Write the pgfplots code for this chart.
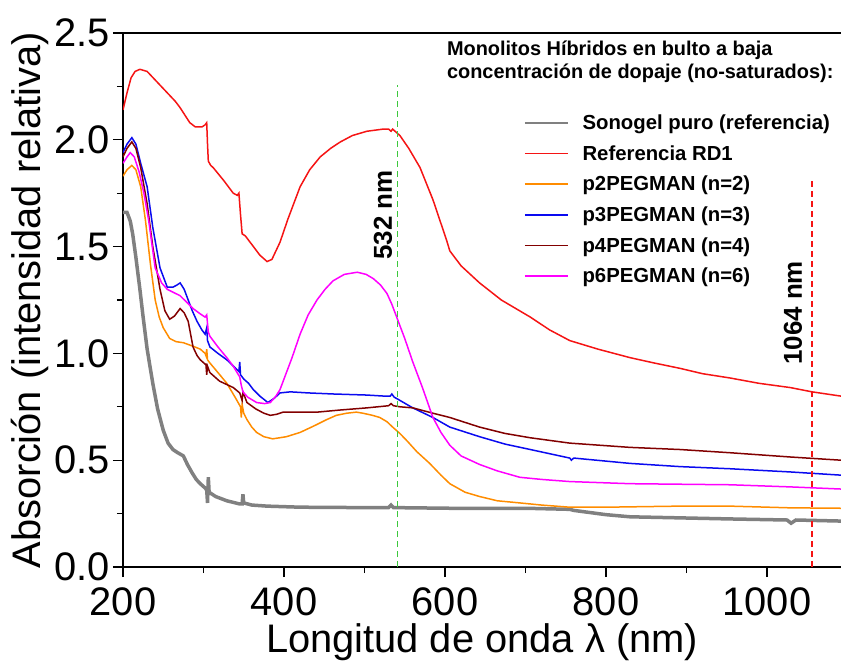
\documentclass[border=0pt]{standalone}
\usepackage{pgfplots}
\pgfplotsset{compat=1.18}
\usepackage{fontspec}
\setmainfont{Liberation Sans}
\definecolor{sgray}{HTML}{808080}
\definecolor{sred}{HTML}{F51414}
\definecolor{sorange}{HTML}{FF8C00}
\definecolor{sblue}{HTML}{0A0AF0}
\definecolor{sbrown}{HTML}{820000}
\definecolor{smag}{HTML}{FF00FF}
\definecolor{sgreen}{HTML}{3CC83C}
\begin{document}
\begin{tikzpicture}
\path[use as bounding box] (-123bp,-94bp) rectangle (718bp,567bp);
\begin{axis}[
  at={(0,0)}, anchor=south west,
  scale only axis, width=718bp, height=534bp,
  xmin=200, xmax=1092, ymin=0, ymax=2.5,
  axis x line=box, axis y line=left,
  axis line style={-, line width=1.2bp},
  xtick={200,400,600,800,1000}, minor x tick num=1,
  ytick={0,0.5,1,1.5,2,2.5}, minor y tick num=1,
  xtick pos=bottom, ytick pos=left,
  tick align=outside, major tick length=10bp, minor tick length=6bp,
  tick style={line width=1.2bp, black},
  /pgf/number format/assume math mode=true,
  xticklabel style={/pgf/number format/1000 sep={}, inner sep=3bp, yshift=-7bp},
  yticklabel style={/pgf/number format/fixed, /pgf/number format/fixed zerofill, /pgf/number format/precision=1, inner ysep=2bp},
  tick label style={font=\fontsize{40}{40}\selectfont},
  label style={font=\fontsize{40}{40}\selectfont},
  xlabel={Longitud de onda λ (nm)},
  ylabel={Absorción (intensidad relativa)},
  xlabel style={at={(axis description cs:0.5,-0.14)}, anchor=center},
  ylabel style={at={(axis description cs:-0.1295,0.5)}, anchor=center},
  legend image code/.code={\draw[#1, line width=1.6bp, solid] (0bp,0bp) -- (43bp,0bp);},
  legend cell align=left,
  legend style={at={(rel axis cs:0.554,0.855)}, anchor=north west, draw=none, fill=none,
    font=\bfseries\fontsize{20.4}{20.4}\selectfont, row sep=10.5bp,
    /tikz/every odd column/.append style={column sep=12bp}},
]
\addplot[color=sgray, line width=3.5bp] coordinates {
(200,1.66)(205,1.66)(209,1.62)(212,1.56)(216,1.45)(221,1.30)(225,1.17)(230,1.02)(237,0.86)(243,0.74)(250,0.64)(256,0.58)(262,0.55)(268,0.535)(275,0.52)(280,0.48)(286,0.44)(291,0.41)(296,0.39)(302,0.37)(304,0.36)(305,0.30)(306,0.42)(307,0.35)(315,0.33)(329,0.31)(345,0.295)(348,0.295)(349,0.34)(350,0.30)(360,0.29)(379,0.285)(420,0.28)(500,0.278)(530,0.278)(533,0.29)(536,0.278)(606,0.275)(700,0.275)(755,0.27)(760,0.265)(800,0.245)(830,0.235)(892,0.23)(954,0.225)(1025,0.22)(1030,0.205)(1036,0.22)(1092,0.215)};
\addlegendentry{Sonogel puro (referencia)}
\addplot[color=sred, line width=1.5bp] coordinates {
(200,2.14)(205,2.22)(210,2.29)(215,2.32)(221,2.33)(230,2.32)(235,2.30)(245,2.26)(255,2.22)(265,2.18)(271,2.15)(283,2.08)(290,2.06)(298,2.06)(302,2.07)(304,2.08)(305,1.98)(306,1.90)(309,1.88)(312,1.87)(325,1.81)(337,1.75)(342,1.74)(344,1.75)(346,1.65)(348,1.56)(352,1.55)(360,1.51)(370,1.46)(379,1.43)(385,1.44)(395,1.52)(405,1.63)(420,1.78)(432,1.86)(445,1.92)(458,1.96)(470,1.99)(485,2.02)(503,2.04)(523,2.05)(530,2.05)(533,2.04)(535,2.05)(538,2.04)(544,2.02)(555,1.96)(569,1.87)(585,1.72)(602,1.53)(606,1.48)(620,1.41)(643,1.33)(670,1.25)(706,1.17)(730,1.11)(755,1.06)(790,1.02)(830,0.98)(860,0.955)(892,0.93)(920,0.905)(954,0.885)(990,0.86)(1029,0.84)(1056,0.82)(1092,0.80)};
\addlegendentry{Referencia RD1}
\addplot[color=sorange, line width=1.5bp] coordinates {
(200,1.83)(205,1.86)(211,1.88)(216,1.86)(222,1.78)(228,1.62)(234,1.42)(240,1.25)(245,1.17)(250,1.12)(258,1.07)(266,1.055)(275,1.05)(286,1.035)(296,1.02)(302,1.00)(303,0.99)(304,1.02)(305,0.97)(308,0.955)(318,0.91)(329,0.86)(340,0.79)(346,0.75)(347,0.70)(348,0.76)(350,0.72)(354,0.69)(360,0.655)(366,0.63)(375,0.61)(386,0.60)(403,0.61)(420,0.63)(437,0.66)(453,0.69)(465,0.71)(478,0.72)(490,0.725)(498,0.72)(510,0.71)(519,0.70)(528,0.68)(535,0.655)(544,0.625)(553,0.59)(565,0.54)(581,0.485)(595,0.43)(606,0.39)(625,0.35)(643,0.33)(665,0.31)(693,0.30)(720,0.29)(755,0.28)(800,0.28)(892,0.285)(954,0.285)(1029,0.277)(1092,0.275)};
\addlegendentry{p2PEGMAN (n=2)}
\addplot[color=sblue, line width=1.5bp] coordinates {
(200,1.94)(205,1.98)(211,2.01)(216,1.98)(222,1.89)(230,1.78)(237,1.59)(246,1.40)(255,1.31)(262,1.31)(267,1.32)(271,1.33)(276,1.30)(281,1.25)(286,1.20)(292,1.15)(298,1.11)(302,1.09)(304,1.12)(305,1.06)(308,1.03)(318,1.00)(329,0.97)(340,0.93)(344,0.915)(345,0.96)(346,0.90)(350,0.88)(356,0.86)(362,0.83)(370,0.80)(380,0.77)(388,0.79)(395,0.815)(408,0.82)(430,0.815)(461,0.81)(503,0.805)(525,0.80)(532,0.80)(534,0.81)(537,0.795)(544,0.78)(560,0.745)(585,0.70)(606,0.655)(643,0.61)(675,0.575)(706,0.55)(755,0.51)(757,0.50)(760,0.51)(830,0.485)(892,0.47)(954,0.46)(1029,0.445)(1092,0.43)};
\addlegendentry{p3PEGMAN (n=3)}
\addplot[color=sbrown, line width=1.5bp] coordinates {
(200,1.92)(205,1.96)(211,1.99)(216,1.96)(222,1.87)(230,1.70)(237,1.50)(246,1.30)(252,1.20)(258,1.16)(264,1.175)(271,1.21)(276,1.19)(281,1.15)(287,1.03)(292,0.99)(296,0.97)(302,0.95)(303,0.95)(304,0.90)(305,0.94)(308,0.91)(320,0.87)(337,0.84)(345,0.815)(348,0.78)(349,0.82)(354,0.77)(365,0.74)(375,0.72)(383,0.71)(391,0.715)(399,0.725)(441,0.725)(470,0.735)(503,0.745)(530,0.755)(533,0.765)(536,0.755)(544,0.75)(560,0.745)(585,0.72)(606,0.70)(643,0.655)(675,0.625)(706,0.605)(755,0.58)(830,0.56)(892,0.55)(954,0.535)(1029,0.515)(1092,0.50)};
\addlegendentry{p4PEGMAN (n=4)}
\addplot[color=smag, line width=1.5bp] coordinates {
(200,1.89)(205,1.92)(209,1.94)(214,1.92)(220,1.85)(226,1.75)(232,1.62)(240,1.40)(248,1.33)(255,1.30)(263,1.285)(271,1.27)(279,1.24)(287,1.21)(296,1.185)(302,1.17)(304,1.18)(306,1.10)(308,1.08)(318,1.03)(329,0.98)(337,0.94)(345,0.89)(347,0.85)(349,0.82)(355,0.795)(366,0.77)(376,0.765)(383,0.77)(390,0.80)(395,0.83)(402,0.90)(410,0.98)(420,1.09)(430,1.18)(441,1.25)(451,1.30)(461,1.34)(475,1.37)(491,1.38)(502,1.37)(511,1.35)(520,1.32)(528,1.28)(534,1.23)(540,1.17)(550,1.07)(560,0.96)(572,0.84)(585,0.70)(595,0.63)(606,0.57)(620,0.52)(643,0.48)(665,0.45)(693,0.42)(720,0.41)(755,0.40)(830,0.39)(954,0.385)(1029,0.375)(1092,0.365)};
\addlegendentry{p6PEGMAN (n=6)}
\addplot[color=sgreen, line width=1.3bp, dash pattern=on 6bp off 4bp, forget plot] coordinates {(541,0)(541,2.257)};
\addplot[color=sred, line width=1.3bp, dash pattern=on 6bp off 4bp, forget plot] coordinates {(1056,0)(1056,1.82)};
\node[rotate=90, anchor=base, font=\bfseries\fontsize{26}{26}\selectfont] at (axis cs:534,1.648) {532 nm};
\node[rotate=90, anchor=base, font=\bfseries\fontsize{26}{26}\selectfont] at (axis cs:1043.5,1.19) {1064 nm};
\node[anchor=north west, align=left, inner sep=0pt, font=\bfseries\fontsize{20}{23}\selectfont] at (rel axis cs:0.451,0.985) {Monolitos Híbridos en bulto a baja\\concentración de dopaje (no-saturados):};
\end{axis}
\end{tikzpicture}
\end{document}
